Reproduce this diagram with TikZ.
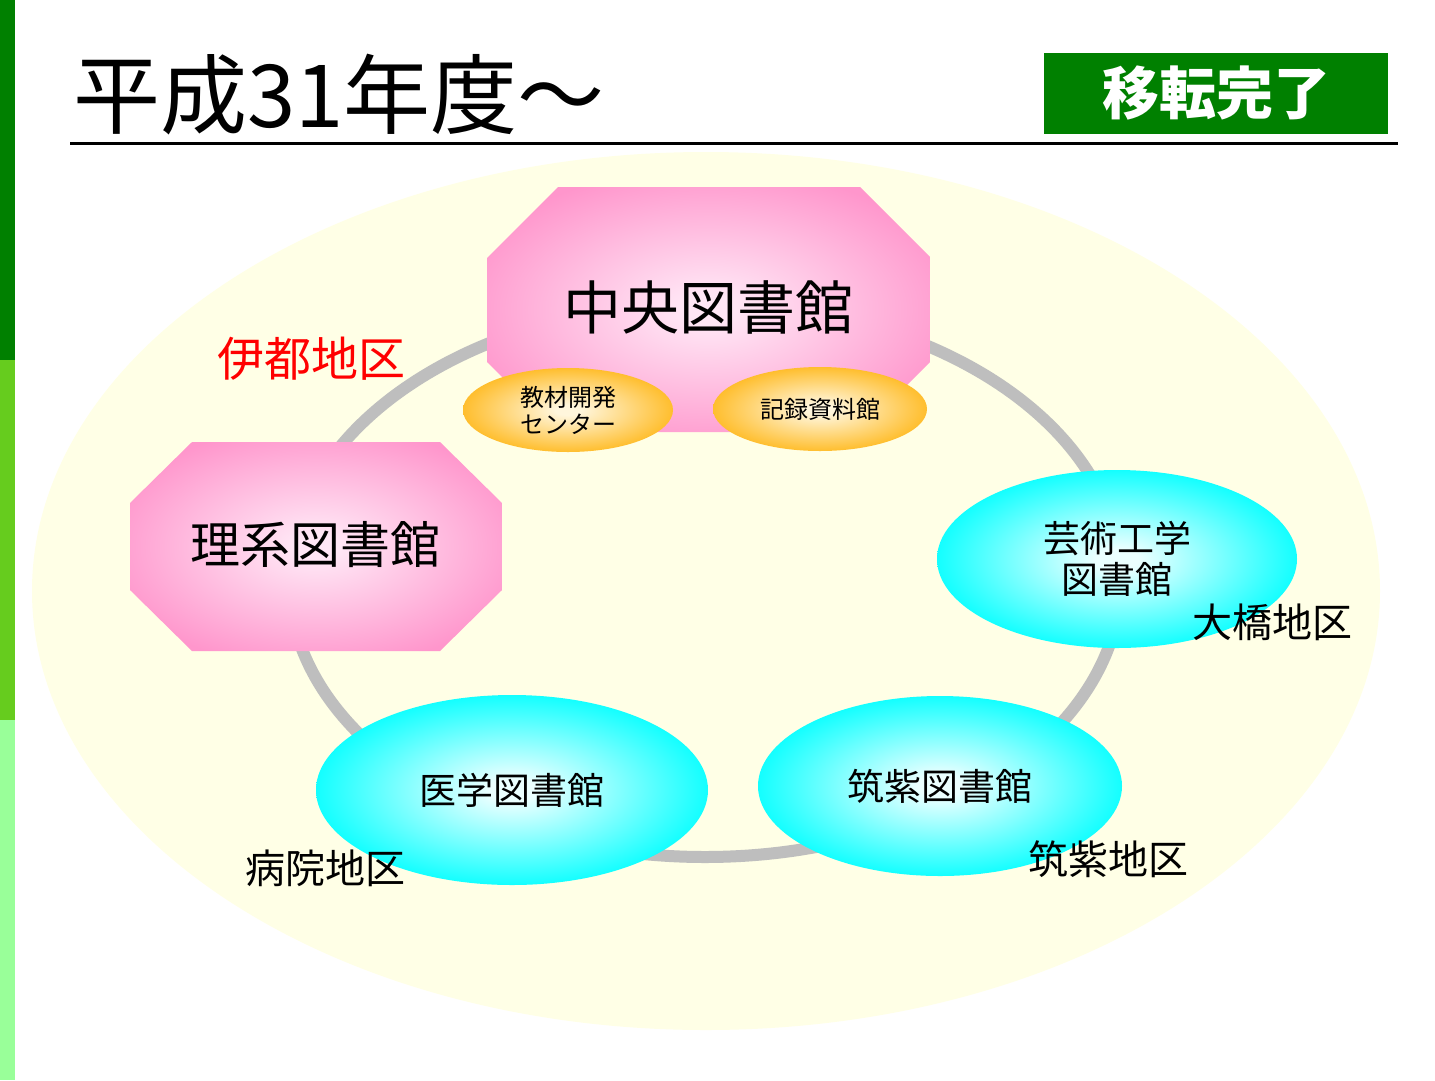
\documentclass[tikz,border=0pt]{standalone}
\usepackage{fontspec}
\setmainfont{Noto Sans CJK JP}
\usetikzlibrary{shapes.geometric}
\definecolor{barA}{RGB}{0,128,0}
\definecolor{barB}{RGB}{102,204,30}
\definecolor{barC}{RGB}{153,255,153}
\definecolor{boxgreen}{RGB}{0,128,0}
\definecolor{fieldyellow}{RGB}{255,255,230}
\definecolor{ringgray}{RGB}{190,190,190}
\definecolor{pinkC}{RGB}{255,230,245}
\definecolor{pinkE}{RGB}{255,150,204}
\definecolor{cyanC}{RGB}{235,255,255}
\definecolor{cyanE}{RGB}{0,255,255}
\definecolor{orangeC}{RGB}{255,246,220}
\definecolor{orangeE}{RGB}{255,185,30}
\pgfdeclareradialshading{pinkshade}{\pgfpoint{0bp}{0bp}}{color(0bp)=(pinkC); color(3bp)=(pinkC); color(29bp)=(pinkE); color(100bp)=(pinkE)}
\pgfdeclareradialshading{cyanshade}{\pgfpoint{0bp}{0bp}}{color(0bp)=(cyanC); color(3bp)=(cyanC); color(27bp)=(cyanE); color(100bp)=(cyanE)}
\pgfdeclareradialshading{orangeshade}{\pgfpoint{0bp}{0bp}}{color(0bp)=(orangeC); color(3bp)=(orangeC); color(27bp)=(orangeE); color(100bp)=(orangeE)}
\tikzset{
  octo/.style={shade, shading=pinkshade},
  cyanell/.style={ellipse, shade, shading=cyanshade, inner sep=0pt, align=center, font=\fontsize{37}{41}\selectfont},
  orangeell/.style={ellipse, shade, shading=orangeshade, inner sep=0pt, align=center, font=\fontsize{24}{27}\selectfont},
  area/.style={inner sep=0pt, font=\fontsize{40}{44}\selectfont},
  ring/.style={draw=ringgray, line width=12pt},
}
\begin{document}
\begin{tikzpicture}[x=1pt, y=-1pt]
\useasboundingbox (0,0) rectangle (1435,1080);
\fill[white] (0,0) rectangle (1435,1080);
% side bar
\fill[barA] (0,0) rectangle (15,360);
\fill[barB] (0,360) rectangle (15,720);
\fill[barC] (0,720) rectangle (15,1080);
% title
\node[anchor=base west, inner sep=0pt, font=\fontsize{87}{90}\selectfont] (title) at (73,127) {平成31年度～};
\draw[line width=3pt] (70,143) -- (1398,143);
\node[fill=boxgreen, text=white, minimum width=344pt, minimum height=81pt, inner sep=0pt, font=\fontsize{57}{60}\selectfont\bfseries] (done) at (1216,93.5) {移転完了};
% field
\fill[fieldyellow] (706,591) ellipse [x radius=674pt, y radius=439pt];
% ring
\draw[ring] (705,580) ellipse [x radius=416pt, y radius=277pt];
% central library
\path[octo] (558,187) -- (860,187) -- (930,257) -- (930,362) -- (860,432) -- (558,432) -- (487,362) -- (487,258) -- cycle;
\node[inner sep=0pt, font=\fontsize{58}{62}\selectfont] (chuo) at (708,307) {中央図書館};
\node[orangeell, minimum width=210pt, minimum height=84pt] (kyozai) at (568,410) {教材開発\\センター};
\node[orangeell, minimum width=214pt, minimum height=84pt] (kiroku) at (820,409) {記録資料館};
% science library
\path[octo] (192,442) -- (440,442) -- (502,503) -- (502,590) -- (440,651) -- (192,651) -- (130,590) -- (130,503) -- cycle;
\node[inner sep=0pt, font=\fontsize{50}{54}\selectfont] (rikei) at (315,545) {理系図書館};
% cyan libraries
\node[cyanell, minimum width=360pt, minimum height=178pt] (geiko) at (1117,559) {芸術工学\\図書館};
\node[cyanell, minimum width=392pt, minimum height=190pt] (igaku) at (512,790) {医学図書館};
\node[cyanell, minimum width=364pt, minimum height=180pt] (chikushi) at (940,786) {筑紫図書館};
% area labels
\node[area, text=red, font=\fontsize{47}{50}\selectfont] (ito) at (311,359) {伊都地区};
\node[area] (ohashi) at (1272,622) {大橋地区};
\node[area] (byoin) at (325,868) {病院地区};
\node[area] (chikushiarea) at (1108,859) {筑紫地区};
\end{tikzpicture}
\end{document}
